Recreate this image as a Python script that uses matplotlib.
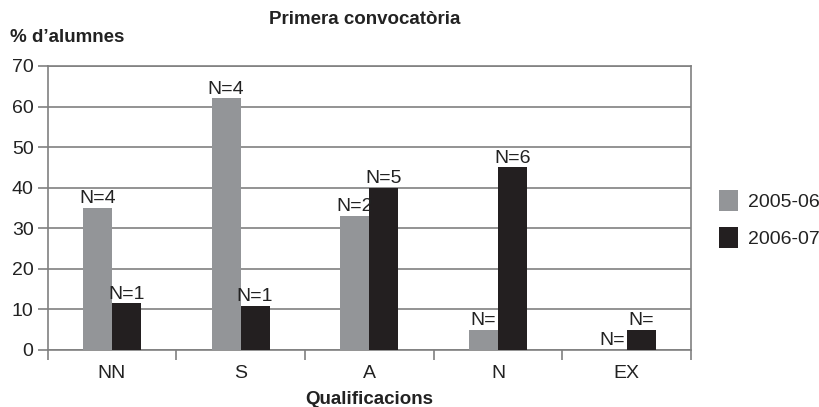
import matplotlib.pyplot as plt
import numpy as np

plt.rcParams['font.family'] = ['Liberation Sans', 'DejaVu Sans']

# dades
categories = ['NN', 'S', 'A', 'N', 'EX']
series_names = ['2005-06', '2006-07']
vals_0506 = [35, 62, 33, 5, 0]
vals_0607 = [11.5, 10.8, 40, 45, 5]
labels_0506 = ['N=4', 'N=4', 'N=2', 'N=', 'N=']
labels_0607 = ['N=1', 'N=1', 'N=5', 'N=6', 'N=']

color_gris = '#939598'
color_negre = '#231f20'
color_linia = '#808080'
color_text = '#222222'

fig = plt.figure(figsize=(8.19, 4.07), dpi=100)
ax = fig.add_axes([47.5 / 819, 1 - 350 / 407, (691 - 47.5) / 819, (350 - 66) / 407])

x = np.arange(len(categories))
w = 0.225
b1 = ax.bar(x - w / 2, vals_0506, w, color=color_gris, label=series_names[0], zorder=3)
b2 = ax.bar(x + w / 2, vals_0607, w, color=color_negre, label=series_names[1], zorder=3)

for bars, labs in ((b1, labels_0506), (b2, labels_0607)):
    for rect, lab in zip(bars, labs):
        ax.annotate(lab, (rect.get_x() + rect.get_width() / 2, rect.get_height()),
                    xytext=(0, 0.5), textcoords='offset points',
                    ha='center', va='bottom', fontsize=14, color=color_text)

ax.set_xlim(-0.5, len(categories) - 0.5)
ax.set_ylim(0, 70)
ax.set_yticks(range(0, 71, 10))
ax.yaxis.grid(True, color=color_linia, linewidth=1.2, zorder=0)
ax.set_axisbelow(True)

# ticks de l'eix x entre categories
ax.set_xticks(np.arange(-0.5, len(categories), 1))
ax.set_xticklabels([])
ax.set_xticks(x, minor=True)
ax.set_xticklabels(categories, minor=True, fontsize=14, color=color_text)
ax.tick_params(axis='x', which='major', length=7, width=1.2, color=color_linia, direction='out')
ax.tick_params(axis='x', which='minor', length=0, pad=11)
ax.tick_params(axis='y', length=7, width=1.2, color=color_linia, labelsize=14,
               labelcolor=color_text, pad=3)

for s in ax.spines.values():
    s.set_color(color_linia)
    s.set_linewidth(1.2)

fig.text(365 / 819, 1 - 20 / 407, 'Primera convocatòria', ha='center', va='center',
         fontsize=13.5, fontweight='bold', color=color_text)
fig.text(10 / 819, 1 - 38 / 407, '% d\u2019alumnes', ha='left', va='center',
         fontsize=13.5, fontweight='bold', color=color_text)
fig.text(369 / 819, 1 - 399 / 407, 'Qualificacions', ha='center', va='center',
         fontsize=13.5, fontweight='bold', color=color_text)

ax.legend(loc='upper left', bbox_to_anchor=(719 / 819, 1 - 190 / 407),
          bbox_transform=fig.transFigure, frameon=False, fontsize=14,
          borderpad=0, borderaxespad=0,
          handlelength=1.0, handleheight=1.25, handletextpad=0.5, labelspacing=0.85,
          labelcolor=color_text)

fig.savefig('out.png', dpi=100)
